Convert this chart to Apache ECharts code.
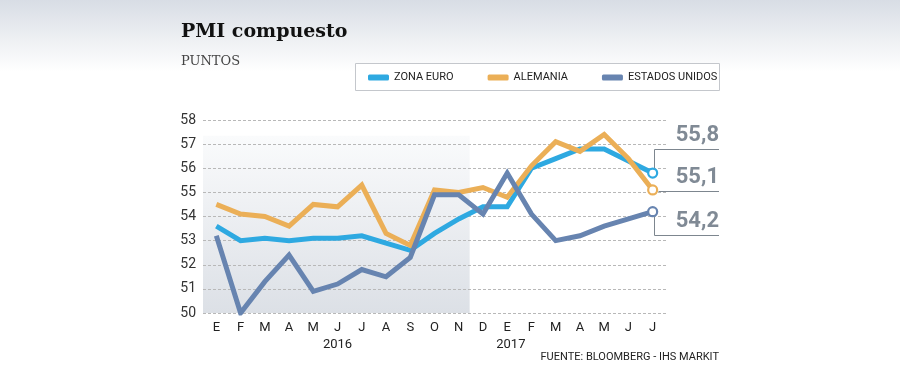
<!DOCTYPE html>
<html><head><meta charset="utf-8">
<script src="https://cdn.jsdelivr.net/npm/echarts@6/dist/echarts.min.js"></script>
<style>
html,body{margin:0;padding:0;}
body{width:900px;height:386px;background:linear-gradient(#d8dde5 0px,#eef0f3 40px,#ffffff 72px,#ffffff 386px);}
#c{width:900px;height:386px;}
</style></head>
<body><div id="c"></div>
<script>
// ---- data ----
const months = ['E','F','M','A','M','J','J','A','S','O','N','D','E','F','M','A','M','J','J'];
const yearLabels = ['2016','2017'];
const yearAt = [5, 12.15];
const zonaEuro = [53.6,53.0,53.1,53.0,53.1,53.1,53.2,52.9,52.6,53.3,53.9,54.4,54.4,56.0,56.4,56.8,56.8,56.3,55.8];
const alemania = [54.5,54.1,54.0,53.6,54.5,54.4,55.3,53.3,52.8,55.1,55.0,55.2,54.8,56.1,57.1,56.7,57.4,56.4,55.1];
const eeuu     = [53.2,50.0,51.3,52.4,50.9,51.2,51.8,51.5,52.3,54.9,54.9,54.1,55.8,54.1,53.0,53.2,53.6,53.9,54.2];
const seriesNames = ['ZONA EURO','ALEMANIA','ESTADOS UNIDOS'];
const shadeFrom = -0.55, shadeTo = 10.45, shadeTop = 57.35;

const colors = ['#2ea9e1','#ebaf57','#6784b0'];
const allData = [zonaEuro, alemania, eeuu];

const chart = echarts.init(document.getElementById('c'), null, {renderer:'canvas'});

function mk(data, color){
  return data.map((v,i)=> i===data.length-1 ? {
    value:[i,v], symbol:'circle', symbolSize:9,
    itemStyle:{color:'#fff', borderColor:color, borderWidth:2.2}
  } : {value:[i,v], symbol:'none'});
}

const series = [{
  type:'line', name:'_shade', data:[], z:1, silent:true,
  markArea:{silent:true, itemStyle:{color:{type:'linear',x:0,y:0,x2:0,y2:1,colorStops:[{offset:0,color:'#fafbfc'},{offset:1,color:'#dce0e6'}]}},
    data:[[{xAxis:shadeFrom, yAxis:shadeTop},{xAxis:shadeTo, yAxis:50}]]}
}];
allData.forEach((d,k)=>{
  series.push({
    type:'line', name:seriesNames[k], data:mk(d, colors[k]), z:3,
    lineStyle:{width:5, color:colors[k], join:'miter'}, itemStyle:{color:colors[k]},
    symbol:'none', showSymbol:true, animation:false
  });
});

chart.setOption({
  animation:false,
  grid:{left:203, right:234, top:120, bottom:73},
  legend:{
    data:seriesNames, left:368, top:72, padding:0, itemGap:34,
    icon:'roundRect', itemWidth:21, itemHeight:6,
    textStyle:{fontFamily:'Roboto, sans-serif', fontSize:11, color:'#222', padding:[0,0,0,0]},
    selectedMode:false
  },
  xAxis:{
    type:'value', min:-0.55, max:18.55,
    axisLine:{show:false}, axisTick:{show:false}, splitLine:{show:false},
    axisLabel:{customValues:months.map((m,i)=>i), formatter:(v)=>months[Math.round(v)]||'',
      margin:8, fontFamily:'Roboto, sans-serif', fontSize:13, color:'#222'}
  },
  yAxis:{
    type:'value', min:50, max:58, interval:1, z:2,
    axisLine:{show:false}, axisTick:{show:false},
    splitLine:{lineStyle:{type:[3,2], color:'#b8b8b8', width:1}},
    axisLabel:{margin:7, fontFamily:'Roboto, sans-serif', fontSize:14, color:'#333'}
  },
  series: series
});

// annotations computed from the library's scales
const g = [];
g.push({type:'text', left:181, top:23, style:{text:'PMI compuesto', font:'bold 19px "DejaVu Serif", serif', fill:'#111'}});
g.push({type:'text', left:181, top:55, style:{text:'PUNTOS', font:'13px "DejaVu Serif", serif', fill:'#444'}});
g.push({type:'rect', shape:{x:355.5, y:63.5, width:364, height:27}, style:{fill:'#fff', stroke:'#c4c7cc', lineWidth:1}, z:-1});
yearLabels.forEach((t,i)=>{
  const p = chart.convertToPixel({gridIndex:0}, [yearAt[i], 50]);
  g.push({type:'text', x:p[0], y:345, style:{text:t, font:'13px Roboto, sans-serif', fill:'#222', align:'center', verticalAlign:'middle'}});
});
g.push({type:'text', x:719, y:357, style:{text:'FUENTE: BLOOMBERG - IHS MARKIT', font:'11px Roboto, sans-serif', fill:'#222', align:'right', verticalAlign:'middle'}});

// end labels with leader lines: offsets are layout (dy of the horizontal rule from the point)
const leaderDy = [-24, 1, 23];
const rightEdge = 719;
allData.forEach((d,k)=>{
  const last = d.length-1;
  const p = chart.convertToPixel({gridIndex:0}, [last, d[last]]);
  const hy = Math.round(p[1] + leaderDy[k]) + 0.5;
  const x0 = Math.round(p[0]) + 1.5;
  const pts = leaderDy[k] === 1 ? [[x0+4, hy],[rightEdge, hy]] : [[x0, p[1] + (leaderDy[k]<0?-4:4)],[x0, hy],[rightEdge, hy]];
  g.push({type:'polyline', shape:{points:pts}, style:{stroke:'#7d868f', lineWidth:1, fill:null}, z:1});
  g.push({type:'text', x:rightEdge, y:hy-3, style:{text:d[last].toFixed(1).replace('.',','), font:'bold 22px Roboto, sans-serif', fill:'#808a95', align:'right', verticalAlign:'bottom'}});
});
chart.setOption({graphic:g});
</script>
</body></html>
